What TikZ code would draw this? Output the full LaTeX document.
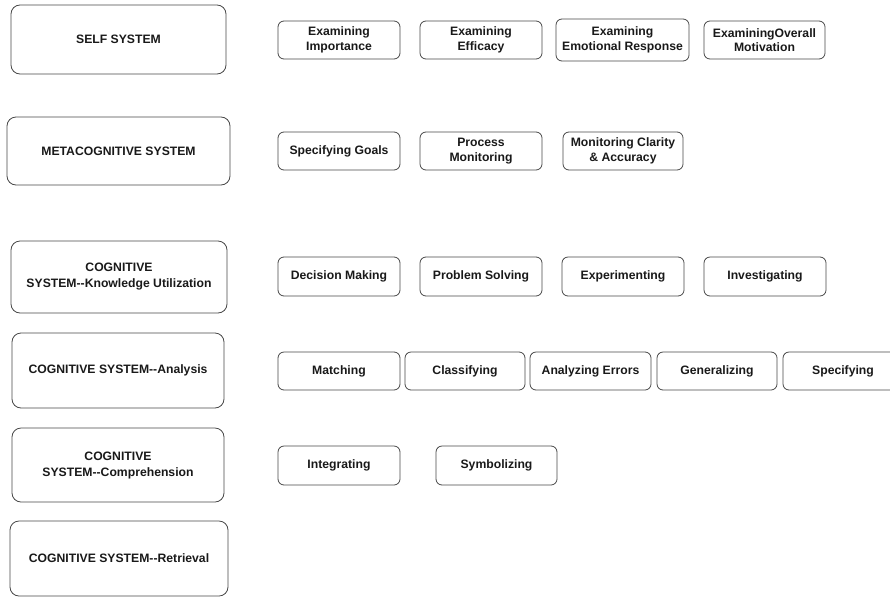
\documentclass[tikz,border=0pt]{standalone}
\usepackage{fontspec}
\setmainfont{Liberation Sans}
\begin{document}
\begin{tikzpicture}[x=1pt,y=-1pt,
  base/.style={draw=black!72, line width=0.8pt, align=center, inner sep=0pt,
    font=\fontsize{12.2}{14.5}\selectfont\bfseries, text=black!90},
  sysbox/.style={base, rounded corners=9pt, font=\fontsize{12.2}{16}\selectfont\bfseries},
  subbox/.style={base, rounded corners=6pt, minimum width=122pt, minimum height=38pt}]
\useasboundingbox (0,0) rectangle (890,597);
% left system boxes
\node[sysbox, minimum width=215pt, minimum height=69pt] (self) at (118.5,39.5) {SELF SYSTEM};
\node[sysbox, minimum width=223pt, minimum height=68pt] (meta) at (118.5,151) {METACOGNITIVE SYSTEM};
\node[sysbox, minimum width=216pt, minimum height=72pt] (ku) at (119,277) {COGNITIVE\\SYSTEM-{}-Knowledge Utilization};
\node[sysbox, minimum width=212pt, minimum height=75pt] (ana) at (118,370.5) {COGNITIVE SYSTEM-{}-Analysis};
\node[sysbox, minimum width=212pt, minimum height=74pt] (comp) at (118,465) {COGNITIVE\\SYSTEM-{}-Comprehension};
\node[sysbox, minimum width=218pt, minimum height=75pt] (ret) at (119,558.5) {COGNITIVE SYSTEM-{}-Retrieval};
% row 1
\node[subbox] (imp) at (339,40) {Examining\\Importance};
\node[subbox] (eff) at (481,40) {Examining\\Efficacy};
\node[subbox, minimum width=133pt, minimum height=42pt] (emo) at (622.5,40) {Examining\\Emotional Response};
\node[subbox, minimum width=121pt] (mot) at (764.5,40) {ExaminingOverall\\Motivation};
% row 2
\node[subbox] (goals) at (339,151) {Specifying Goals};
\node[subbox] (proc) at (481,151) {Process\\Monitoring};
\node[subbox, minimum width=120pt] (clar) at (623,151) {Monitoring Clarity\\\& Accuracy};
% row 3
\node[subbox, minimum height=39pt] (dm) at (339,276.5) {Decision Making};
\node[subbox, minimum height=39pt] (ps) at (481,276.5) {Problem Solving};
\node[subbox, minimum height=39pt] (exp) at (623,276.5) {Experimenting};
\node[subbox, minimum height=39pt] (inv) at (765,276.5) {Investigating};
% row 4
\node[subbox] (match) at (339,371) {Matching};
\node[subbox, minimum width=120pt] (class) at (465,371) {Classifying};
\node[subbox, minimum width=121pt] (err) at (590.5,371) {Analyzing Errors};
\node[subbox, minimum width=120pt] (gen) at (717,371) {Generalizing};
\node[subbox, minimum width=120pt] (spec) at (843,371) {Specifying};
% row 5
\node[subbox, minimum height=39pt] (integ) at (339,465.5) {Integrating};
\node[subbox, minimum width=121pt, minimum height=39pt] (symb) at (496.5,465.5) {Symbolizing};
\end{tikzpicture}
\end{document}
